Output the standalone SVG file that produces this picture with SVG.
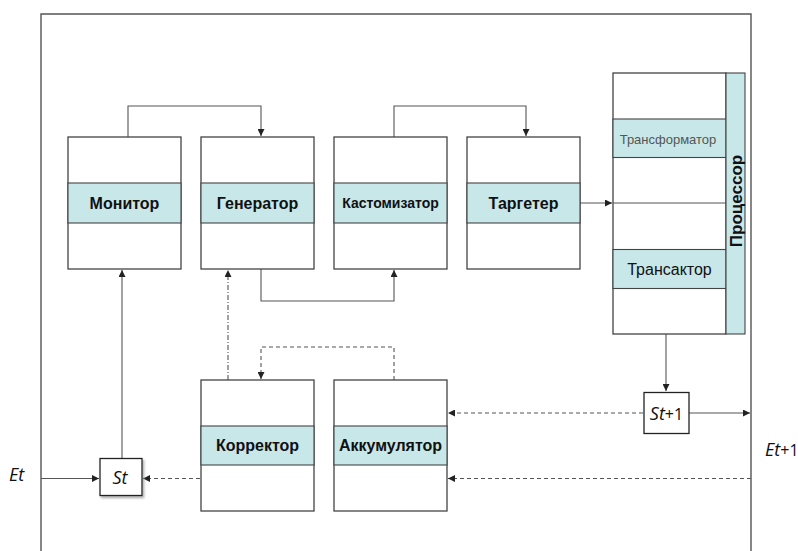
<svg xmlns="http://www.w3.org/2000/svg" width="798" height="551" viewBox="0 0 798 551">
<style>
.box{fill:#fff;stroke:#444;stroke-width:1.3}
.band{fill:#c8e7e9;stroke:#444;stroke-width:1.1}
.lbl{font-family:"Liberation Sans",Arial,sans-serif;font-weight:bold;font-size:16px;fill:#111;text-anchor:middle}
.reg{font-family:"Liberation Sans",Arial,sans-serif;font-size:16px;fill:#111;text-anchor:middle}
.frame{fill:none;stroke:#555;stroke-width:1.4}
.ln{fill:none;stroke:#555;stroke-width:1.1}
.dash{fill:none;stroke:#555;stroke-width:1.1;stroke-dasharray:4 3}
.dashdot{fill:none;stroke:#555;stroke-width:1.1;stroke-dasharray:5 2 1 2}
.math{font-family:"Open Sans","Noto Sans",sans-serif;font-size:18px;fill:#111}
</style>
<defs>
<marker id="ar" viewBox="0 0 10 10" refX="10" refY="5" markerWidth="7" markerHeight="7" markerUnits="userSpaceOnUse" orient="auto">
<path d="M0,0 L10,5 L0,10 z" fill="#222"/>
</marker>
<filter id="sh" x="-20%" y="-20%" width="150%" height="150%">
<feDropShadow dx="1.5" dy="2" stdDeviation="1" flood-color="#888" flood-opacity="0.7"/>
</filter>
</defs>

<!-- outer frame -->
<path class="frame" d="M41,551 V14 H751 V551"/>

<g id="connectors">
<path class="ln" d="M128,137 V106 H261 V136" marker-end="url(#ar)"/>
<path class="ln" d="M394,137 V106 H526 V136" marker-end="url(#ar)"/>
<path class="ln" d="M261,269 V301 H394 V270" marker-end="url(#ar)"/>
<path class="ln" d="M579,203 H612" marker-end="url(#ar)"/>
<path class="dashdot" d="M228,380 V270" marker-end="url(#ar)"/>
<path class="dash" d="M394,380 V347 H261 V379" marker-end="url(#ar)"/>
<path class="ln" d="M122,458 V270" marker-end="url(#ar)"/>
<path class="ln" d="M41,478.5 H99" marker-end="url(#ar)"/>
<path class="dash" d="M200,478.5 H143" marker-end="url(#ar)"/>
<path class="ln" d="M666,334 V391" marker-end="url(#ar)"/>
<path class="ln" d="M689,413 H750" marker-end="url(#ar)"/>
<path class="dash" d="M643,413 H448" marker-end="url(#ar)"/>
<path class="dash" d="M751,478.5 H448" marker-end="url(#ar)"/>
</g>

<g id="monitor">
<rect class="box" x="68" y="137" width="113" height="132"/>
<rect class="band" x="68" y="183" width="113" height="40"/>
<text class="lbl" x="124.5" y="209">Монитор</text>
</g>
<g id="generator">
<rect class="box" x="201" y="137" width="113" height="132"/>
<rect class="band" x="201" y="183" width="113" height="40"/>
<text class="lbl" x="257.5" y="209">Генератор</text>
</g>
<g id="customizer">
<rect class="box" x="334" y="137" width="113" height="132"/>
<rect class="band" x="334" y="183" width="113" height="40"/>
<text class="lbl" x="390.5" y="208" style="font-size:14px">Кастомизатор</text>
</g>
<g id="targeter">
<rect class="box" x="467" y="137" width="113" height="132"/>
<rect class="band" x="467" y="183" width="113" height="40"/>
<text class="lbl" x="523.5" y="209">Таргетер</text>
</g>

<g id="processor">
<rect class="box" x="613" y="73" width="113" height="261"/>
<rect class="band" x="613" y="119" width="113" height="38.5"/>
<text class="reg" x="668" y="143.5" style="font-size:13px;fill:#555">Трансформатор</text>
<line class="ln" x1="613" y1="203" x2="726" y2="203"/>
<rect class="band" x="613" y="249.5" width="113" height="39"/>
<text class="reg" x="669.5" y="275">Трансактор</text>
<rect class="band" x="726" y="73" width="19" height="261"/>
<text class="lbl" transform="translate(741.5,201) rotate(-90)" x="0" y="0" style="font-size:17px">Процессор</text>
</g>

<g id="corrector">
<rect class="box" x="201" y="380" width="113" height="131"/>
<rect class="band" x="201" y="426" width="113" height="39"/>
<text class="lbl" x="257.5" y="451">Корректор</text>
</g>
<g id="accumulator">
<rect class="box" x="334" y="380" width="113" height="131"/>
<rect class="band" x="334" y="426" width="113" height="39"/>
<text class="lbl" x="390.5" y="451">Аккумулятор</text>
</g>

<g id="st">
<rect x="100" y="458.5" width="42" height="37" fill="#fff" stroke="#222" stroke-width="1.3" filter="url(#sh)"/>
<text class="math" x="120" y="484" text-anchor="middle" font-style="italic">St</text>
</g>
<g id="st1">
<rect x="644" y="392.5" width="45" height="41" fill="#fff" stroke="#222" stroke-width="1.3"/>
<text class="math" x="666.5" y="419.5" text-anchor="middle"><tspan font-style="italic">St</tspan><tspan font-size="16">+1</tspan></text>
</g>

<text class="math" x="9" y="481" font-style="italic">Et</text>
<text class="math" x="765" y="456"><tspan font-style="italic">Et</tspan><tspan font-size="16">+1</tspan></text>
</svg>
